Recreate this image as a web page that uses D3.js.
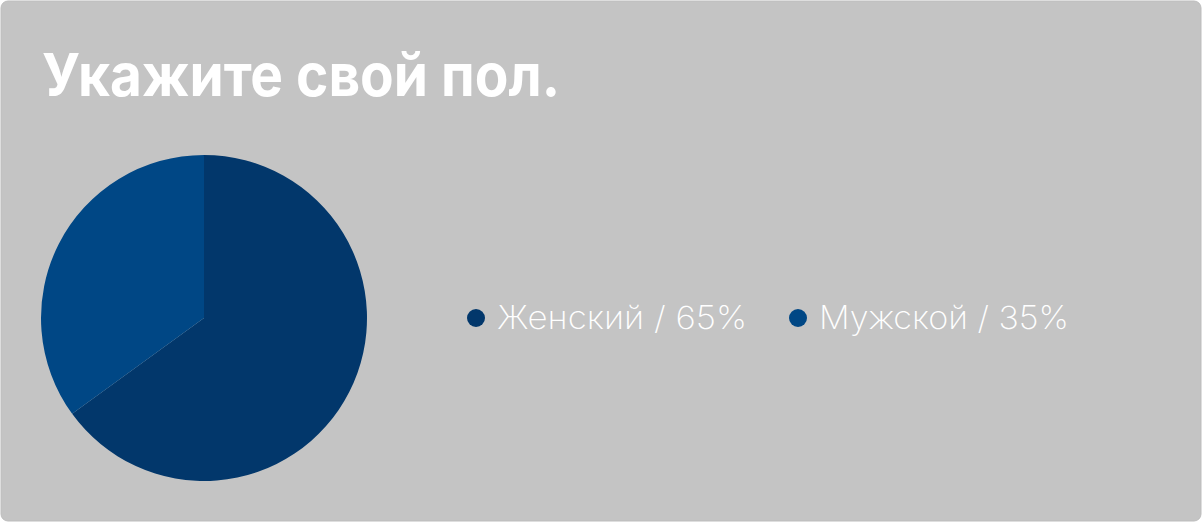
<!DOCTYPE html>
<html><head><meta charset="utf-8">
<script src="https://cdn.jsdelivr.net/npm/d3@7"></script>
<style>html,body{margin:0;padding:0;background:#fff;}</style>
</head><body>
<svg id="chart" width="1202" height="522"></svg>
<script>
const titleText = "Укажите свой пол.";
const categories = ["Женский", "Мужской"];
const values = [65, 35];
const colors = ["#02376b", "#004785"];

const svg = d3.select("#chart");
svg.append("rect").attr("x", 1).attr("y", 1).attr("width", 1200).attr("height", 520)
  .attr("rx", 7).attr("fill", "#c4c4c4").attr("stroke", "#bdbdbd").attr("stroke-width", 1);

svg.append("text").attr("x", 42).attr("y", 96)
  .attr("font-family", "Inter, 'Open Sans', sans-serif").attr("font-weight", 700)
  .attr("font-size", 59).attr("fill", "#fff").attr("textLength", 518).attr("lengthAdjust","spacingAndGlyphs")
  .text(titleText);

const data = categories.map((c, i) => ({name: c, value: values[i], color: colors[i]}));
const pie = d3.pie().value(d => d.value).sort(null);
const arc = d3.arc().innerRadius(0).outerRadius(163);
const g = svg.append("g").attr("transform", "translate(204,318)");
g.selectAll("path").data(pie(data)).join("path").attr("d", arc).attr("fill", d => d.data.color);

const legendX = [476, 798];
const lg = svg.append("g");
data.forEach((d, i) => {
  lg.append("circle").attr("cx", legendX[i]).attr("cy", 318).attr("r", 9).attr("fill", d.color);
  lg.append("text").attr("x", legendX[i] + 21).attr("y", 329)
    .attr("font-family", "Inter, 'Open Sans', sans-serif").attr("font-weight", 200)
    .attr("font-size", 32).attr("fill", "#fff").attr("textLength", 250).attr("lengthAdjust","spacingAndGlyphs")
    .text(`${d.name} / ${d.value}%`);
});
</script>
</body></html>
